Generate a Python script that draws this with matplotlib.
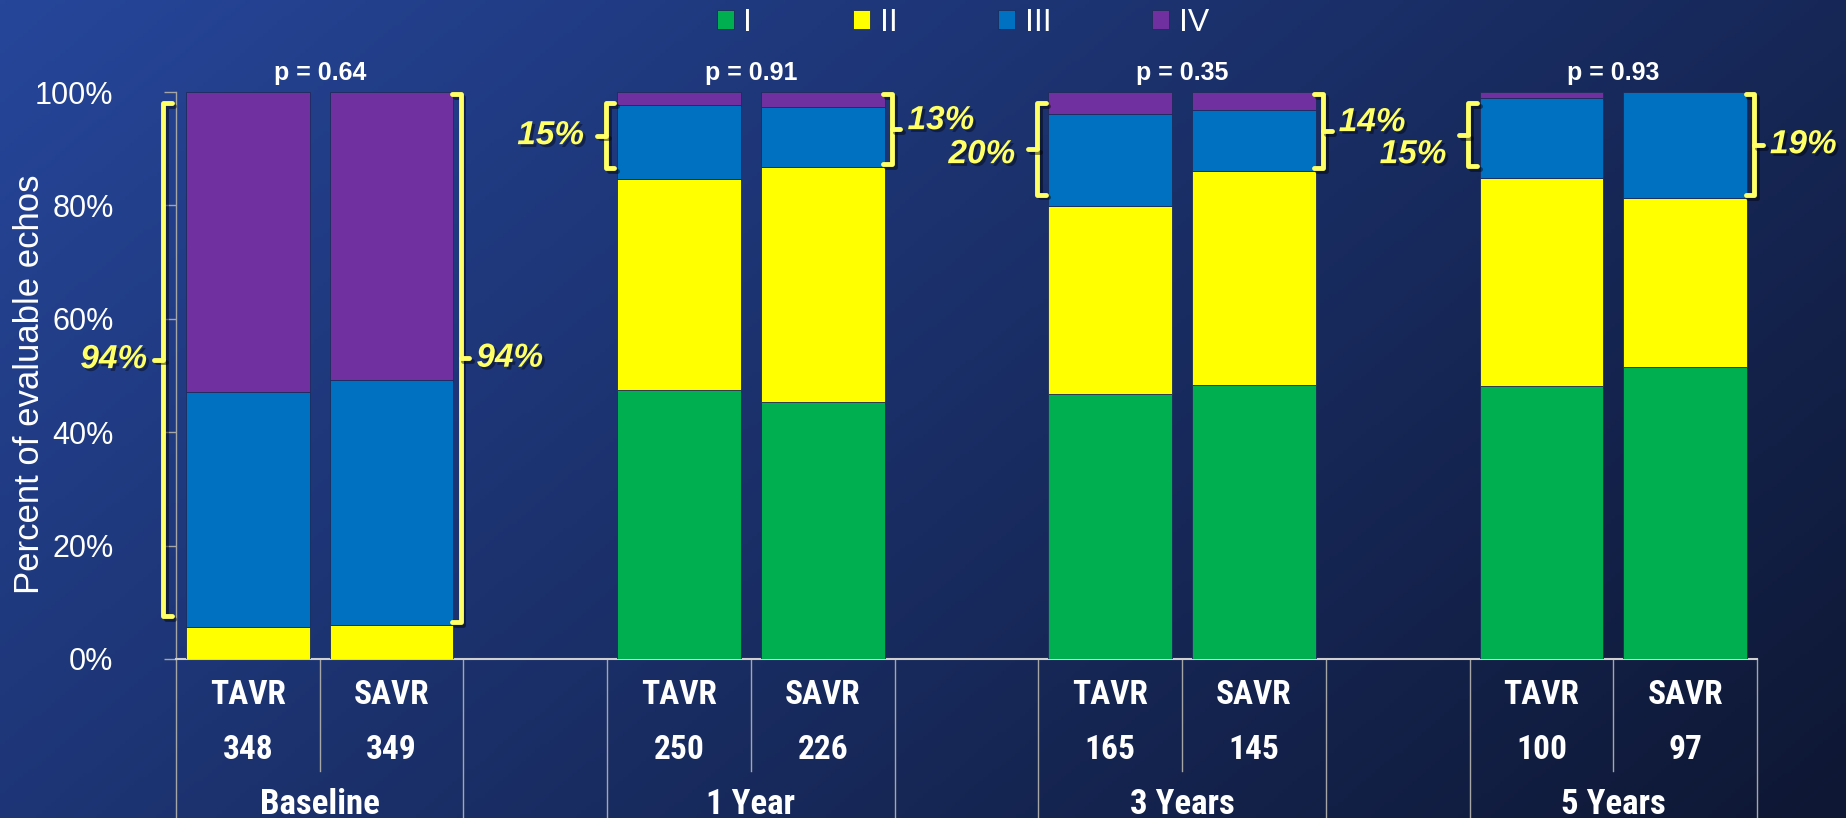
import numpy as np
import matplotlib
matplotlib.use("Agg")
import matplotlib.pyplot as plt
import matplotlib.patheffects as pe
from matplotlib.transforms import blended_transform_factory

plt.rcParams['font.family'] = ['Liberation Sans', 'DejaVu Sans']

# NYHA class distribution by visit and arm (percent of evaluable echos)
groups = ['Baseline', '1 Year', '3 Years', '5 Years']
arms = ['TAVR', 'SAVR']
n_echos = [348, 349, 250, 226, 165, 145, 100, 97]
p_values = ['0.64', '0.91', '0.35', '0.93']
class_labels = ['I', 'II', 'III', 'IV']
class_I = [0.0, 0.0, 47.5, 45.4, 46.7, 48.3, 48.1, 51.5]
class_II = [5.6, 6.0, 37.1, 41.4, 33.2, 37.8, 36.8, 29.8]
class_III = [41.5, 43.2, 13.1, 10.5, 16.2, 10.8, 14.1, 18.7]
class_IV = [52.9, 50.8, 2.3, 2.7, 3.9, 3.1, 1.0, 0.0]

colors = ['#00b050', '#ffff00', '#0070c0', '#7030a0']
bracket_col = '#ffff66'

fig = plt.figure(figsize=(18.46, 8.18), dpi=100)

# diagonal blue gradient background
bg = fig.add_axes([0, 0, 1, 1], zorder=-10)
gx, gy = np.meshgrid(np.linspace(0, 1, 400), np.linspace(0, 1, 200))
t = 0.65 * gx + 0.35 * gy
c0 = np.array([38, 70, 154]) / 255
c1 = np.array([14, 23, 51]) / 255
img = c0[None, None, :] * (1 - t[..., None]) + c1[None, None, :] * t[..., None]
bg.imshow(img, extent=[0, 1, 0, 1], aspect='auto', origin='upper')
bg.axis('off')

ax = fig.add_axes([176 / 1846, 1 - 659 / 818, 1581 / 1846, 567 / 818])
ax.set_facecolor('none')

# bar positions: two arms per group, one empty slot between groups
xpos = []
for g in range(len(groups)):
    xpos += [3 * g, 3 * g + 1]
xpos = np.array(xpos, dtype=float)

series = [class_I, class_II, class_III, class_IV]
bottom = np.zeros(len(xpos))
handles = []
for vals, col, lab in zip(series, colors, class_labels):
    vals = np.array(vals)
    b = ax.bar(xpos, vals, width=0.86, bottom=bottom, color=col,
               edgecolor='#1c2c5c', linewidth=0.6, label=lab, zorder=3)
    handles.append(b)
    bottom += vals

ax.set_xlim(-0.5, 10.5)
ax.set_ylim(0, 100)
ax.set_yticks(range(0, 101, 20))
ax.set_yticklabels([f'{v}%' for v in range(0, 101, 20)])
ax.tick_params(axis='y', colors='#a6a6a6', length=9, width=1, pad=36,
               labelcolor='white', labelsize=22)
ax.tick_params(axis='x', bottom=False, labelbottom=False)
for s in ['top', 'right']:
    ax.spines[s].set_visible(False)
ax.spines['left'].set_color('#a6a6a6')
ax.spines['left'].set_linewidth(1)
ax.spines['bottom'].set_color('#d0d0d0')
ax.spines['bottom'].set_linewidth(1.5)

fig.text(30 / 1846, 0.53, 'Percent of evaluable echos', rotation=90,
         ha='center', va='center', color='white', fontsize=25)

# category table under the axis
tr = blended_transform_factory(ax.transData, fig.transFigure)
y_axis = 1 - 659 / 818
narrow = ['Roboto Condensed', 'Liberation Sans Narrow', 'Liberation Sans']
for g, name in enumerate(groups):
    x0 = 3 * g
    for xl in (x0 - 0.5, x0 + 1.5):
        ax.plot([xl, xl], [y_axis, 0], color='#a6a6a6', lw=1,
                transform=tr, clip_on=False)
    ax.plot([x0 + 0.5, x0 + 0.5], [y_axis, 1 - 771 / 818], color='#a6a6a6',
            lw=1, transform=tr, clip_on=False)
    for i, arm in enumerate(arms):
        k = 2 * g + i
        ax.text(x0 + i, 1 - 695 / 818, arm, transform=tr, ha='center',
                va='center', color='white', fontsize=24, fontweight='bold',
                family=narrow)
        ax.text(x0 + i, 1 - 750 / 818, str(n_echos[k]), transform=tr,
                ha='center', va='center', color='white', fontsize=24,
                fontweight='bold', family=narrow)
    ax.text(x0 + 0.5, 1 - 804 / 818, name, transform=tr, ha='center',
            va='center', color='white', fontsize=25, fontweight='bold',
            family=narrow)
    ax.text(x0 + 0.5, 1 - 73 / 818, f'p = {p_values[g]}', transform=tr,
            ha='center', va='center', color='white', fontsize=18,
            fontweight='bold')

# brackets around classes III + IV
shadow = [pe.SimpleLineShadow(offset=(2, -2), shadow_color='black', alpha=0.45),
          pe.Normal()]
text_shadow = [pe.SimplePatchShadow(offset=(2, -2), shadow_rgbFace='black',
                                    alpha=0.4), pe.Normal()]
left_gap = [0.16, 0.08, 0.08, 0.08]
label_dy = [0, 0, 0, 1.5, -1, 1.5, -3.5, 0]
hook = 0.06
nub = 0.06
for k, x in enumerate(xpos):
    share = class_III[k] + class_IV[k]
    lo = 100 - share
    if k % 2 == 0:
        side = -1
        bx = x - 0.43 - left_gap[k // 2]
        y0, y1 = lo + 2, 98
        lx = bx - 0.15 if k > 0 else bx - 0.11
    else:
        side = 1
        bx = x + 0.43 + 0.05
        y0, y1 = lo + 0.5, 99.6
        lx = bx + 0.11
    ym = (y0 + y1) / 2
    ax.plot([bx - side * hook, bx, bx, bx - side * hook], [y1, y1, y0, y0],
            color=bracket_col, lw=3.5, solid_joinstyle='round',
            solid_capstyle='round', clip_on=False, zorder=5, path_effects=shadow)
    ax.plot([bx, bx + side * nub], [ym, ym], color=bracket_col, lw=3.5,
            solid_capstyle='round', clip_on=False, zorder=5, path_effects=shadow)
    ax.text(lx, ym + label_dy[k], f'{round(share)}%',
            ha='right' if side < 0 else 'left', va='center',
            color=bracket_col, fontsize=24, fontweight='bold', style='italic',
            clip_on=False, zorder=6, path_effects=text_shadow)

ax.legend(handles, class_labels, loc='center',
          bbox_to_anchor=(963 / 1846, 1 - 23 / 818),
          bbox_transform=fig.transFigure, ncol=4, frameon=False,
          fontsize=23, handlelength=0.53, handleheight=0.53,
          handletextpad=0.31, columnspacing=3.15, labelcolor='white')

fig.savefig('out.png', dpi=100)
